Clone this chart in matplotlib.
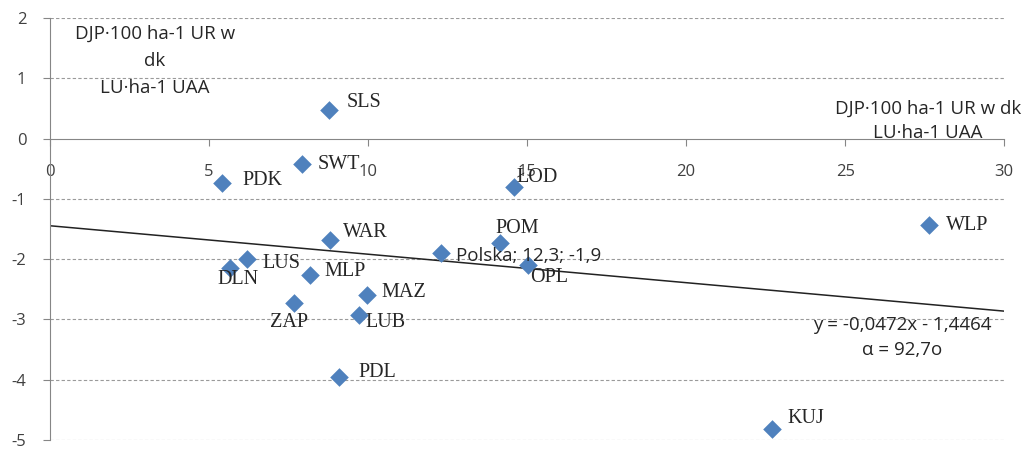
import matplotlib.pyplot as plt

plt.rcParams["axes.unicode_minus"] = False

# regions (voivodeships) and their values
regions = ["SLS", "SWT", "PDK", "ŁOD", "WAR", "POM", "Polska; 12,3; -1,9", "WLP",
           "LUS", "DLN", "MLP", "OPL", "MAZ", "ZAP", "LUB", "PDL", "KUJ"]
x_vals = [8.77, 7.92, 5.41, 14.59, 8.81, 14.15, 12.3, 27.64,
          6.19, 5.66, 8.18, 15.03, 9.97, 7.67, 9.72, 9.09, 22.7]
y_vals = [0.48, -0.43, -0.73, -0.80, -1.69, -1.74, -1.9, -1.44,
          -1.99, -2.14, -2.26, -2.09, -2.60, -2.72, -2.92, -3.96, -4.81]

# trend line coefficients
slope = -0.0472
intercept = -1.4464

# label offsets in pixels (dx, dy), left edge of the text
offsets = {"SLS": (18, 7), "SWT": (16, 0), "PDK": (20, 2), "ŁOD": (3, 9),
           "WAR": (13, 8), "POM": (-5, 15), "Polska; 12,3; -1,9": (15, -3),
           "WLP": (17, 0), "LUS": (16, -5), "DLN": (-13, -12), "MLP": (14, 3),
           "OPL": (2, -13), "MAZ": (14, 3), "ZAP": (-24, -20), "LUB": (6, -8),
           "PDL": (19, 5), "KUJ": (15, 10)}

sans = ["Open Sans", "DejaVu Sans"]
serif = ["Liberation Serif", "DejaVu Serif"]

fig = plt.figure(figsize=(10.31, 4.49), dpi=100)
ax = fig.add_axes([0.0485, 0.02, 0.9255, 0.94])

ax.set_xlim(0, 30)
ax.set_ylim(-5, 2)

for yy in range(-5, 3):
    if yy != 0:
        ax.axhline(yy, color="#9a9a9a", lw=0.8, ls=(0, (3, 2)), zorder=0)

ax.spines["right"].set_visible(False)
ax.spines["top"].set_visible(False)
ax.spines["bottom"].set_position(("data", 0))
ax.spines["bottom"].set_color("#868686")
ax.spines["left"].set_color("#868686")

ax.set_xticks(range(0, 31, 5))
ax.set_yticks(range(-5, 3))
ax.tick_params(axis="x", direction="out", length=5, color="#868686", pad=13,
               labelsize=12, labelcolor="#404040")
ax.tick_params(axis="y", direction="out", length=5, color="#868686", pad=12,
               labelsize=12, labelcolor="#404040")
for lab in ax.get_xticklabels() + ax.get_yticklabels():
    lab.set_family(sans)

# trend line
ax.plot([0, 30], [intercept, slope * 30 + intercept], color="#222222", lw=1.1, zorder=2)

ax.scatter(x_vals, y_vals, marker="D", s=90, color="#4F81BD", zorder=3, linewidths=0)

for name, xv, yv in zip(regions, x_vals, y_vals):
    dx, dy = offsets[name]
    fam = sans if name.startswith("Polska") else serif
    fs = 13.5 if name.startswith("Polska") else 14.5
    ax.annotate(name, (xv, yv), xytext=(dx, dy), textcoords="offset pixels",
                ha="left", va="center", fontsize=fs, family=fam,
                color="#262626", zorder=4)

ax.text(3.3, 1.28, "DJP·100 ha-1 UR w\ndk\nLU·ha-1 UAA", ha="center", va="center",
        fontsize=13.5, family=sans, color="#262626", linespacing=1.65)
ax.text(27.6, 0.3, "DJP·100 ha-1 UR w dk\nLU·ha-1 UAA", ha="center", va="center",
        fontsize=13.5, family=sans, color="#262626", linespacing=1.45)
ax.text(26.8, -3.3, "y = -0,0472x - 1,4464\nα = 92,7o", ha="center", va="center",
        fontsize=13.5, family=sans, color="#262626", linespacing=1.45)

fig.savefig("out.png", dpi=100)
